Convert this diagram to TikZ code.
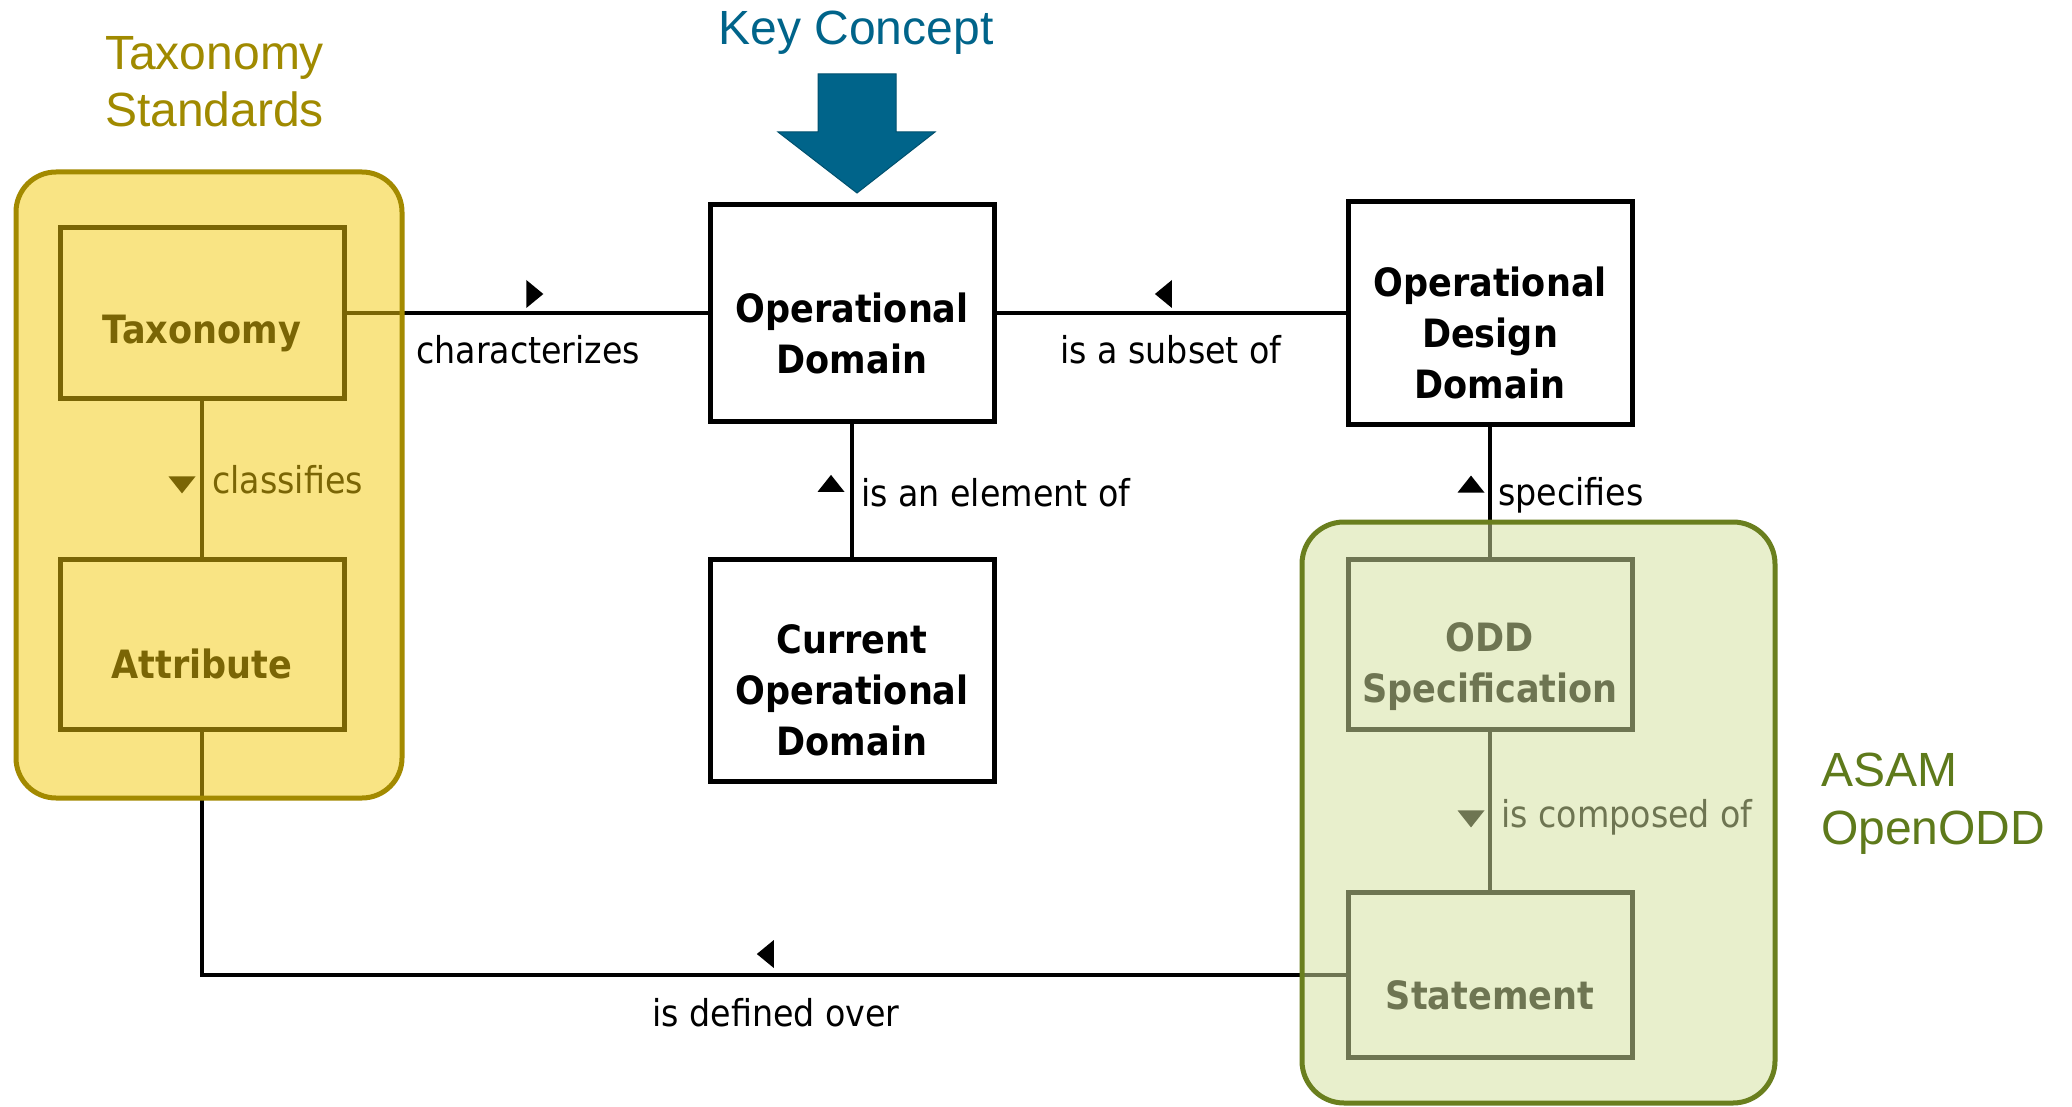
\documentclass[tikz,border=0pt]{standalone}
\usepackage{fontspec}
\newfontfamily\diafont{DejaVu Sans}[FakeStretch=0.9]
\newfontfamily\titlefont{Liberation Sans}

\definecolor{keyblue}{RGB}{0,100,138}
\definecolor{keyblueline}{RGB}{0,80,110}
\definecolor{taxfill}{RGB}{244,202,10}
\definecolor{taxborder}{RGB}{163,138,0}
\definecolor{taxtitle}{RGB}{160,138,0}
\definecolor{oddfill}{RGB}{212,225,158}
\definecolor{oddborder}{RGB}{106,127,30}
\definecolor{oddtitle}{RGB}{94,122,27}

\tikzset{
  pics/triR/.style={code={\fill (-8,-14) -- (9,0) -- (-8,14) -- cycle;}},
  pics/triL/.style={code={\fill (8,-14) -- (-9,0) -- (8,14) -- cycle;}},
  pics/triU/.style={code={\fill (-13.5,8.5) -- (0,-8.5) -- (13.5,8.5) -- cycle;}},
  pics/triD/.style={code={\fill (-13.5,-8.5) -- (0,8.5) -- (13.5,-8.5) -- cycle;}},
}

\begin{document}
\begin{tikzpicture}[x=1pt,y=-1pt,
  conceptbox/.style={draw=black, line width=5pt, fill=white, minimum width=284pt,
    inner sep=0pt, outer sep=0pt},
  boxtext/.style={font=\diafont\bfseries\fontsize{39}{51}\selectfont, align=center,
    inner sep=0pt},
  conn/.style={draw=black, line width=4.5pt},
  rel/.style={font=\diafont\fontsize{37}{44}\selectfont, inner sep=0pt},
  grouptitle/.style={font=\titlefont\fontsize{48}{57}\selectfont, inner sep=0pt},
  taxgroup/.style={draw=taxborder, line width=5pt, fill=taxfill, fill opacity=0.5,
    draw opacity=1, rounded corners=40pt, inner sep=0pt, outer sep=0pt},
  oddgroup/.style={draw=oddborder, line width=5pt, fill=oddfill, fill opacity=0.52,
    draw opacity=1, rounded corners=42pt, inner sep=0pt, outer sep=0pt},
]
\fill[white] (0,0) rectangle (2072,1107);
\useasboundingbox (0,0) rectangle (2072,1107);

% concept boxes
\node[conceptbox, minimum height=170pt] (tax)  at (202,313) {};
\node[conceptbox, minimum height=170pt] (attr) at (202,644) {};
\node[conceptbox, minimum height=217pt] (od)   at (852,313) {};
\node[conceptbox, minimum height=222pt] (cod)  at (852,670) {};
\node[conceptbox, minimum height=222pt] (odd)  at (1490,313) {};
\node[conceptbox, minimum height=170pt] (spec) at (1490,644) {};
\node[conceptbox, minimum height=165pt] (stmt) at (1490,975) {};

\node[boxtext] (taxt)  at ([yshift=-20pt]tax.center)  {Taxonomy};
\node[boxtext] (attrt) at ([yshift=-20pt]attr.center) {Attribute};
\node[boxtext] (odt)   at ([yshift=-20pt]od.center)   {Operational\\Domain};
\node[boxtext] (codt)  at ([yshift=-20pt]cod.center)  {Current\\Operational\\Domain};
\node[boxtext] (oddt)  at ([yshift=-20pt]odd.center)  {Operational\\Design\\Domain};
\node[boxtext] (spect) at ([yshift=-23pt]spec.center) {ODD\\Specification};
\node[boxtext] (stmtt) at ([yshift=-20pt]stmt.center) {Statement};

% relations
\draw[conn] (tax.east) -- coordinate[pos=0.52] (m1) (od.west);
\draw[conn] (odd.west) -- coordinate[pos=0.52] (m2) (od.east);
\draw[conn] (cod.north) -- coordinate[pos=0.55] (m3) (od.south);
\draw[conn] (spec.north) -- coordinate[pos=0.555] (m4) (odd.south);
\draw[conn] (tax.south) -- coordinate[pos=0.54] (m5) (attr.north);
\draw[conn] (spec.south) -- coordinate[pos=0.55] (m6) (stmt.north);
\draw[conn] (stmt.west) -- coordinate[pos=0.508] (m7) (stmt.west -| attr.south)
  -- (attr.south);

\pic at ([shift={(0,-19)}]m1) {triR};
\pic at ([shift={(0,-19)}]m2) {triL};
\pic at ([shift={(-21,0)}]m3) {triU};
\pic at ([shift={(-19,0)}]m4) {triU};
\pic at ([shift={(-20,0)}]m5) {triD};
\pic at ([shift={(-19,0)}]m6) {triD};
\pic at ([shift={(0,-21)}]m7) {triL};

\node[rel, anchor=base west] (lchar) at (416,363) {characterizes};
\node[rel, anchor=base] (lsub) at (1171,363) {is a subset of};
\node[rel, anchor=base west] (lelem) at (861,506) {is an element of};
\node[rel, anchor=base west] (lspec) at (1498,505) {specifies};
\node[rel, anchor=base west] (lclass) at (212,493) {classifies};
\node[rel, anchor=base west] (lcomp) at (1501,827) {is composed of};
\node[rel, anchor=base] (ldef) at (776,1026) {is defined over};

% grouping overlays
\node[taxgroup, minimum width=386pt, minimum height=626pt] (taxgrp) at (209,485) {};
\node[oddgroup, minimum width=473pt, minimum height=581pt] (oddgrp) at (1538.5,812.5) {};

% titles
\node[grouptitle, text=taxtitle, anchor=base west] (tt1) at (105,70) {Taxonomy};
\node[grouptitle, text=taxtitle, anchor=base west] (tt2) at (105,127) {Standards};
\node[grouptitle, text=oddtitle, anchor=base west] (ot1) at (1821,786) {ASAM};
\node[grouptitle, text=oddtitle, anchor=base west] (ot2) at (1821,844) {OpenODD};
\node[grouptitle, text=keyblue, anchor=base] (kc) at (856,45) {Key Concept};

% key concept arrow
\fill[keyblue, draw=keyblueline, line width=1pt, line join=miter]
  (818,74) -- (896,74) -- (896,132) -- (935,132) -- (857,193) -- (778,132)
  -- (818,132) -- cycle;
\end{tikzpicture}
\end{document}
